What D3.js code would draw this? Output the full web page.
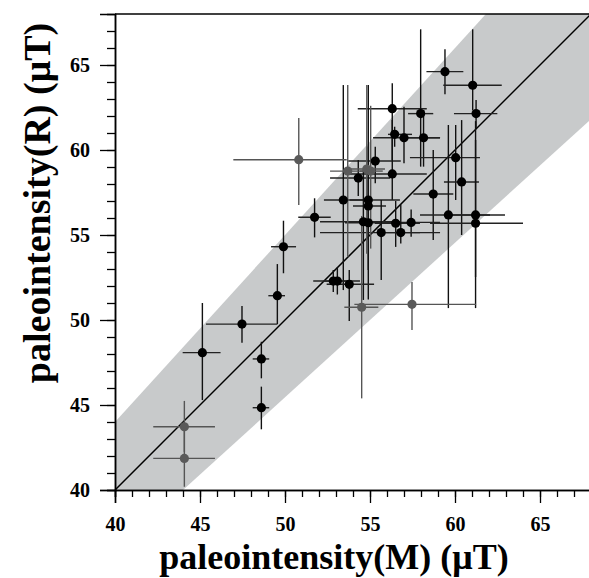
<!DOCTYPE html>
<html><head><meta charset="utf-8">
<script src="https://cdn.jsdelivr.net/npm/d3@7"></script>
<style>body{margin:0;background:#fff}svg{display:block}</style>
</head><body>
<svg id="c" width="589" height="578"></svg>
<script>
// x (M), y (R), x error range, y error range, group (0 black, 1 gray)
const xVals = [59.41,61.04,61.24,56.31,57.98,56.45,57.0,58.15,60.04,55.31,56.31,54.31,60.39,58.72,53.43,54.9,54.9,51.74,59.61,61.21,61.21,54.61,54.9,56.51,57.42,55.66,56.81,49.91,53.78,52.84,53.08,49.55,47.47,45.14,48.61,48.61,
  44.08,44.08,54.51,50.81,53.69,54.81,55.04,57.47];
const yVals = [64.61,63.81,62.14,62.43,62.14,60.92,60.72,60.72,59.55,59.35,58.59,58.35,58.12,57.41,57.06,57.06,56.71,56.04,56.18,56.18,55.69,55.78,55.72,55.69,55.74,55.14,55.14,54.31,52.1,52.29,52.29,51.43,49.76,48.08,47.71,44.84,
  43.72,41.86,50.75,59.43,58.76,58.88,58.76,50.92];
const xLow = [58.32,59.31,59.94,54.28,57.24,56.06,55.18,57.0,57.35,53.72,53.82,52.65,59.35,57.55,52.29,53.82,54.0,50.78,57.94,59.35,58.53,52.06,53.53,55.29,55.88,52.06,55.88,49.18,52.45,51.66,52.3,49.02,45.35,43.98,48.1,48.1,
  42.25,42.25,53.49,46.96,52.65,53.82,54.4,54.08];
const xHigh = [60.49,62.75,62.49,58.34,58.72,57.47,59.12,59.12,61.47,56.81,58.34,56.18,61.41,59.9,54.6,56.76,55.94,52.69,62.06,62.94,64.0,56.76,57.35,57.94,59.12,59.12,57.94,50.65,55.24,54.41,53.9,50.0,49.55,46.21,49.07,49.07,
  45.88,45.88,55.49,53.63,55.0,55.88,55.75,61.24];
const yLow = [63.28,62.35,61.29,59.41,59.02,60.19,59.22,59.02,57.06,58.04,57.06,57.29,55.0,54.7,51.76,54.7,51.2,54.86,50.7,52.53,50.7,51.18,52.94,54.3,54.9,52.35,54.5,52.75,49.94,51.65,51.5,49.76,48.66,45.29,46.57,43.57,
  42.24,40.19,45.39,56.76,53.7,53.9,54.2,49.41];
const yHigh = [65.92,67.1,62.94,63.92,67.1,61.37,62.55,62.35,61.47,60.19,61.76,59.41,61.76,60.0,63.82,60.2,63.82,57.16,61.47,61.7,60.59,58.82,58.24,57.0,56.5,57.06,56.8,55.84,52.94,52.94,53.1,53.29,50.82,51.0,48.72,46.08,
  45.24,43.53,56.12,61.88,63.82,63.82,62.6,52.24];
const group = [0,0,0,0,0,0,0,0,0,0,0,0,0,0,0,0,0,0,0,0,0,0,0,0,0,0,0,0,0,0,0,0,0,0,0,0,1,1,1,1,1,1,1,1];
const majorTicks = [40,45,50,55,60,65];
const minorTicks = d3.range(40,68,1);
const xTitle = "paleointensity(M) (\u03bcT)";
const yTitle = "paleointensity(R) (\u03bcT)";

const svg = d3.select("#c");
const x = d3.scaleLinear().domain([40,68]).range([115,591]);
const y = d3.scaleLinear().domain([40,68]).range([490,14]);
const font = "'Liberation Serif','Times New Roman',serif";

svg.append("defs").append("clipPath").attr("id","clip")
  .append("rect").attr("x",115).attr("y",14).attr("width",476).attr("height",476);
const plot = svg.append("g").attr("clip-path","url(#clip)");

// +-10% band
const band = [[40,40*1.1],[68,68*1.1],[68,68/1.1],[40,40/1.1]];
plot.append("path").attr("d", d3.line().x(d=>x(d[0])).y(d=>y(d[1]))(band)+"Z")
  .attr("fill","#c8cacb");
plot.append("line").attr("x1",x(40)).attr("y1",y(40)).attr("x2",x(68)).attr("y2",y(68))
  .attr("stroke","#000").attr("stroke-width",1.5);

const data = xVals.map((v,i)=>({x:v,y:yVals[i],xl:xLow[i],xh:xHigh[i],yl:yLow[i],yh:yHigh[i],g:group[i]}));
const col = g => g ? "#5a5a5a" : "#000";
const bars = plot.append("g");
data.forEach(d=>{
  bars.append("line").attr("x1",x(d.xl)).attr("x2",x(d.xh)).attr("y1",y(d.y)).attr("y2",y(d.y))
    .attr("stroke", d.g ? "#555" : "#222").attr("stroke-width",1.4);
  bars.append("line").attr("x1",x(d.x)).attr("x2",x(d.x)).attr("y1",y(d.yl)).attr("y2",y(d.yh))
    .attr("stroke", d.g ? "#555" : "#111").attr("stroke-width",1.4);
});
plot.append("g").selectAll("circle").data(data).join("circle")
  .attr("cx",d=>x(d.x)).attr("cy",d=>y(d.y)).attr("r",4.6).attr("fill",d=>col(d.g));

// frame line
svg.append("line").attr("x1",115).attr("x2",591).attr("y1",14).attr("y2",14).attr("stroke","#000").attr("stroke-width",1.5);

// axes
const xMinor = d3.axisBottom(x).tickValues(minorTicks).tickSize(7).tickFormat("");
const xMajor = d3.axisBottom(x).tickValues(majorTicks).tickSize(13).tickPadding(14).tickFormat(d3.format("d"));
const yMinor = d3.axisLeft(y).tickValues(minorTicks).tickSize(8).tickFormat("");
const yMajor = d3.axisLeft(y).tickValues(majorTicks).tickSize(15).tickPadding(10).tickFormat(d3.format("d"));
function styleAxis(g){
  g.attr("font-family", null);
  g.select(".domain").attr("stroke","#000").attr("stroke-width",1.5);
  g.selectAll(".tick line").attr("stroke","#000").attr("stroke-width",1.3);
  g.selectAll("text").attr("fill","#000").attr("font-family",font).style("font-family",font).style("font-weight","bold").style("font-size","20px");
}
svg.append("g").attr("transform","translate(0,490)").call(xMinor).call(styleAxis);
svg.append("g").attr("transform","translate(0,490)").call(xMajor).call(styleAxis);
svg.append("g").attr("transform","translate(115,0)").call(yMinor).call(styleAxis);
svg.append("g").attr("transform","translate(115,0)").call(yMajor).call(styleAxis);

svg.append("text").attr("x",334).attr("y",569).attr("text-anchor","middle")
  .style("font-family",font).style("font-weight","bold").style("font-size","36px").text(xTitle);
svg.append("text").attr("transform","translate(50,203) rotate(-90)").attr("text-anchor","middle")
  .style("font-family",font).style("font-weight","bold").style("font-size","38px").text(yTitle);
</script>
</body></html>
